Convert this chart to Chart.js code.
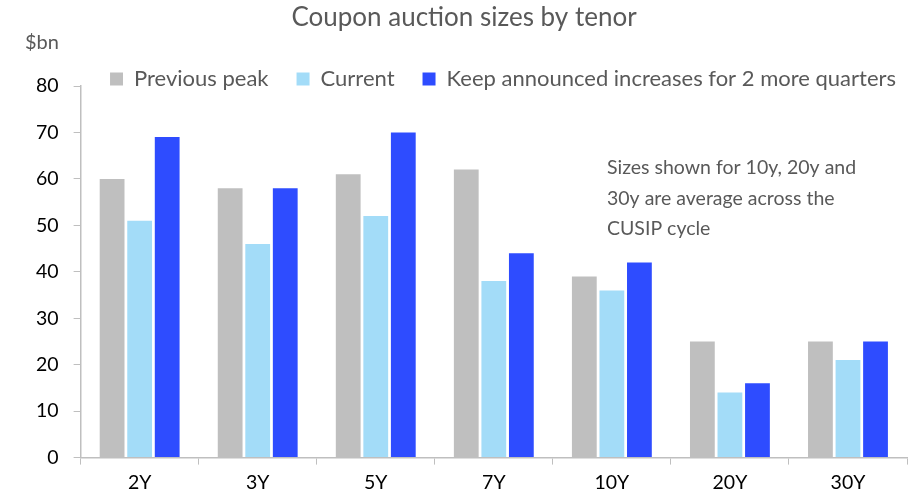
<!DOCTYPE html>
<html>
<head>
<meta charset="utf-8">
<script src="https://cdn.jsdelivr.net/npm/chart.js@4.4.1/dist/chart.umd.min.js"></script>
<style>
  html, body { margin: 0; padding: 0; background: #fff; }
  #wrap { width: 921px; height: 502px; position: relative; }
</style>
</head>
<body>
<div id="wrap"><canvas id="auctionChart"></canvas></div>
<script>
// Coupon auction sizes by tenor ($bn)
const tenors = ['2Y', '3Y', '5Y', '7Y', '10Y', '20Y', '30Y'];
const previousPeak = [60, 58, 61, 62, 39, 25, 25];
const current = [51, 46, 52, 38, 36, 14, 21];
const keepIncreases = [69, 58, 70, 44, 42, 16, 25];
const yTicks = [0, 10, 20, 30, 40, 50, 60, 70, 80];

const FONT = 'Lato, "Noto Sans", sans-serif';
const GREY_TEXT = '#595959';
const AXIS = '#bfbfbf';

// unit label, footnote, and nudging title/legend to where the original has them
const notesPlugin = {
  id: 'notes',
  afterLayout(chart) {
    const lg = chart.legend;
    const lx = 39, ly = 14;
    lg.left += lx; lg.right += lx;
    lg.top += ly; lg.bottom += ly;
    const tb = chart.titleBlock;
    if (tb) { tb.top += 5; tb.bottom += 5; }
  },
  afterDraw(chart) {
    const ctx = chart.ctx;
    ctx.save();
    ctx.fillStyle = GREY_TEXT;
    ctx.textBaseline = 'middle';
    ctx.textAlign = 'left';
    ctx.font = '20px ' + FONT;
    ctx.fillText('$bn', 25, 43);
    ctx.font = '19.5px ' + FONT;
    const lines = ['Sizes shown for 10y, 20y and', '30y are average across the', 'CUSIP cycle'];
    lines.forEach((t, i) => ctx.fillText(t, 607, 168 + i * 30.5));
    ctx.restore();
  }
};

new Chart(document.getElementById('auctionChart'), {
  type: 'bar',
  data: {
    labels: tenors,
    datasets: [
      { label: 'Previous peak', data: previousPeak, backgroundColor: '#bfbfbf' },
      { label: 'Current', data: current, backgroundColor: '#a3dcf8' },
      { label: 'Keep announced increases for 2 more quarters', data: keepIncreases, backgroundColor: '#2e4cff' }
    ]
  },
  options: {
    responsive: true,
    maintainAspectRatio: false,
    animation: false,
    datasets: {
      bar: { categoryPercentage: 0.7, barPercentage: 0.9 }
    },
    layout: { padding: { left: 21, right: 14, top: 0, bottom: 2 } },
    plugins: {
      title: {
        display: true,
        text: 'Coupon auction sizes by tenor',
        color: GREY_TEXT,
        font: { family: FONT, size: 26, weight: 'normal', lineHeight: 1 },
        padding: { top: 0, bottom: 0 }
      },
      legend: {
        position: 'top',
        labels: {
          color: GREY_TEXT,
          font: { family: FONT, size: 22, lineHeight: 1 },
          boxWidth: 13,
          boxHeight: 13,
          padding: 28
        }
      },
      tooltip: { enabled: false }
    },
    scales: {
      x: {
        grid: { display: true, drawOnChartArea: false, drawTicks: true, tickLength: 7, color: AXIS, offset: true },
        border: { color: AXIS, width: 1.5 },
        ticks: { color: '#000', font: { family: FONT, size: 19.5 }, padding: 6 }
      },
      y: {
        min: 0,
        max: 80,
        afterBuildTicks(axis) { axis.ticks = yTicks.map(v => ({ value: v })); },
        grid: { display: true, drawOnChartArea: false, drawTicks: true, tickLength: 7, color: AXIS },
        border: { color: AXIS, width: 1.5 },
        ticks: { color: '#000', font: { family: FONT, size: 19.5 }, padding: 15 }
      }
    }
  },
  plugins: [notesPlugin]
});
</script>
</body>
</html>
